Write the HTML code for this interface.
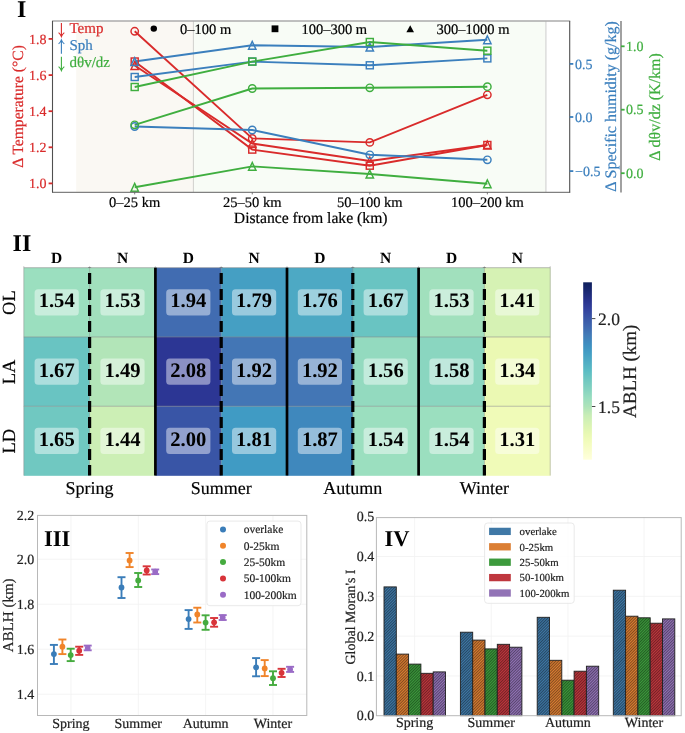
<!DOCTYPE html>
<html><head><meta charset="utf-8"><style>
html,body{margin:0;padding:0;background:#fff;width:685px;height:733px;overflow:hidden;font-family:"Liberation Serif",serif;}
svg{display:block}
</style></head><body>
<svg width="685" height="733" viewBox="0 0 685 733" font-family="'Liberation Serif', serif" text-rendering="geometricPrecision"><g opacity="0.999"><rect x="52.5" y="21.0" width="517.2" height="171.4" fill="#ffffff"/>
<rect x="76.2" y="21.0" width="117.2" height="171.4" fill="#faf8f3"/>
<rect x="193.4" y="21.0" width="352.5" height="171.4" fill="#f8fcf6"/>
<line x1="193.4" y1="21.0" x2="193.4" y2="192.4" stroke="#d0d0cc" stroke-width="1"/>
<line x1="545.9" y1="21.0" x2="545.9" y2="192.4" stroke="#dadada" stroke-width="1.4"/>
<polyline points="134.70,31.30 252.25,138.40 369.80,142.40 487.35,94.80" fill="none" stroke="#d92b2b" stroke-width="1.9"/>
<polyline points="134.70,61.50 252.25,149.60 369.80,165.70 487.35,145.00" fill="none" stroke="#d92b2b" stroke-width="1.9"/>
<polyline points="134.70,65.50 252.25,143.50 369.80,161.00 487.35,145.00" fill="none" stroke="#d92b2b" stroke-width="1.9"/>
<polyline points="134.70,61.50 252.25,45.30 369.80,47.00 487.35,39.80" fill="none" stroke="#3b7fbd" stroke-width="1.9"/>
<polyline points="134.70,77.00 252.25,61.60 369.80,65.30 487.35,58.40" fill="none" stroke="#3b7fbd" stroke-width="1.9"/>
<polyline points="134.70,126.50 252.25,130.00 369.80,154.80 487.35,159.80" fill="none" stroke="#3b7fbd" stroke-width="1.9"/>
<polyline points="134.70,87.00 252.25,61.60 369.80,42.00 487.35,50.70" fill="none" stroke="#3fae3f" stroke-width="1.9"/>
<polyline points="134.70,124.80 252.25,88.50 369.80,87.80 487.35,86.70" fill="none" stroke="#3fae3f" stroke-width="1.9"/>
<polyline points="134.70,187.30 252.25,166.40 369.80,174.00 487.35,183.80" fill="none" stroke="#3fae3f" stroke-width="1.9"/>
<circle cx="134.70" cy="31.30" r="3.7" fill="none" stroke="#d92b2b" stroke-width="1.45"/>
<circle cx="252.25" cy="138.40" r="3.7" fill="none" stroke="#d92b2b" stroke-width="1.45"/>
<circle cx="369.80" cy="142.40" r="3.7" fill="none" stroke="#d92b2b" stroke-width="1.45"/>
<circle cx="487.35" cy="94.80" r="3.7" fill="none" stroke="#d92b2b" stroke-width="1.45"/>
<rect x="131.20" y="58.00" width="7.0" height="7.0" fill="none" stroke="#d92b2b" stroke-width="1.45"/>
<rect x="248.75" y="146.10" width="7.0" height="7.0" fill="none" stroke="#d92b2b" stroke-width="1.45"/>
<rect x="366.30" y="162.20" width="7.0" height="7.0" fill="none" stroke="#d92b2b" stroke-width="1.45"/>
<rect x="483.85" y="141.50" width="7.0" height="7.0" fill="none" stroke="#d92b2b" stroke-width="1.45"/>
<path d="M134.70 61.60 L131.00 69.40 L138.40 69.40 Z" fill="none" stroke="#d92b2b" stroke-width="1.45" stroke-linejoin="miter"/>
<path d="M252.25 139.60 L248.55 147.40 L255.95 147.40 Z" fill="none" stroke="#d92b2b" stroke-width="1.45" stroke-linejoin="miter"/>
<path d="M369.80 157.10 L366.10 164.90 L373.50 164.90 Z" fill="none" stroke="#d92b2b" stroke-width="1.45" stroke-linejoin="miter"/>
<path d="M487.35 141.10 L483.65 148.90 L491.05 148.90 Z" fill="none" stroke="#d92b2b" stroke-width="1.45" stroke-linejoin="miter"/>
<path d="M134.70 57.60 L131.00 65.40 L138.40 65.40 Z" fill="none" stroke="#3b7fbd" stroke-width="1.45" stroke-linejoin="miter"/>
<path d="M252.25 41.40 L248.55 49.20 L255.95 49.20 Z" fill="none" stroke="#3b7fbd" stroke-width="1.45" stroke-linejoin="miter"/>
<path d="M369.80 43.10 L366.10 50.90 L373.50 50.90 Z" fill="none" stroke="#3b7fbd" stroke-width="1.45" stroke-linejoin="miter"/>
<path d="M487.35 35.90 L483.65 43.70 L491.05 43.70 Z" fill="none" stroke="#3b7fbd" stroke-width="1.45" stroke-linejoin="miter"/>
<rect x="131.20" y="73.50" width="7.0" height="7.0" fill="none" stroke="#3b7fbd" stroke-width="1.45"/>
<rect x="248.75" y="58.10" width="7.0" height="7.0" fill="none" stroke="#3b7fbd" stroke-width="1.45"/>
<rect x="366.30" y="61.80" width="7.0" height="7.0" fill="none" stroke="#3b7fbd" stroke-width="1.45"/>
<rect x="483.85" y="54.90" width="7.0" height="7.0" fill="none" stroke="#3b7fbd" stroke-width="1.45"/>
<circle cx="134.70" cy="126.50" r="3.7" fill="none" stroke="#3b7fbd" stroke-width="1.45"/>
<circle cx="252.25" cy="130.00" r="3.7" fill="none" stroke="#3b7fbd" stroke-width="1.45"/>
<circle cx="369.80" cy="154.80" r="3.7" fill="none" stroke="#3b7fbd" stroke-width="1.45"/>
<circle cx="487.35" cy="159.80" r="3.7" fill="none" stroke="#3b7fbd" stroke-width="1.45"/>
<rect x="131.20" y="83.50" width="7.0" height="7.0" fill="none" stroke="#3fae3f" stroke-width="1.45"/>
<rect x="248.75" y="58.10" width="7.0" height="7.0" fill="none" stroke="#3fae3f" stroke-width="1.45"/>
<rect x="366.30" y="38.50" width="7.0" height="7.0" fill="none" stroke="#3fae3f" stroke-width="1.45"/>
<rect x="483.85" y="47.20" width="7.0" height="7.0" fill="none" stroke="#3fae3f" stroke-width="1.45"/>
<circle cx="134.70" cy="124.80" r="3.7" fill="none" stroke="#3fae3f" stroke-width="1.45"/>
<circle cx="252.25" cy="88.50" r="3.7" fill="none" stroke="#3fae3f" stroke-width="1.45"/>
<circle cx="369.80" cy="87.80" r="3.7" fill="none" stroke="#3fae3f" stroke-width="1.45"/>
<circle cx="487.35" cy="86.70" r="3.7" fill="none" stroke="#3fae3f" stroke-width="1.45"/>
<path d="M134.70 183.40 L131.00 191.20 L138.40 191.20 Z" fill="none" stroke="#3fae3f" stroke-width="1.45" stroke-linejoin="miter"/>
<path d="M252.25 162.50 L248.55 170.30 L255.95 170.30 Z" fill="none" stroke="#3fae3f" stroke-width="1.45" stroke-linejoin="miter"/>
<path d="M369.80 170.10 L366.10 177.90 L373.50 177.90 Z" fill="none" stroke="#3fae3f" stroke-width="1.45" stroke-linejoin="miter"/>
<path d="M487.35 179.90 L483.65 187.70 L491.05 187.70 Z" fill="none" stroke="#3fae3f" stroke-width="1.45" stroke-linejoin="miter"/>
<line x1="52.0" y1="21.0" x2="570.2" y2="21.0" stroke="#ababab" stroke-width="1.3"/>
<line x1="52.0" y1="192.4" x2="570.2" y2="192.4" stroke="#808080" stroke-width="1.2"/>
<line x1="52.5" y1="21.0" x2="52.5" y2="192.4" stroke="#505050" stroke-width="1.1"/>
<line x1="569.7" y1="21.0" x2="569.7" y2="192.4" stroke="#505050" stroke-width="1.1"/>
<text x="17.00" y="16.80" font-size="24" fill="#000" text-anchor="start" font-weight="bold">I</text>
<path d="M61.4 23 V36.4 M58.6 32.6 Q60.6 34.2 61.4 36.6 Q62.2 34.2 64.3 32.6" fill="none" stroke="#d92b2b" stroke-width="1.1"/>
<text x="69.50" y="33.40" font-size="15" fill="#d92b2b" text-anchor="start" font-weight="normal" stroke="#d92b2b" stroke-width="0.2">Temp</text>
<path d="M61.4 53.8 V40.2 M58.6 43.9 Q60.6 42.3 61.4 39.9 Q62.2 42.3 64.3 43.9" fill="none" stroke="#3b7fbd" stroke-width="1.1"/>
<text x="69.50" y="50.40" font-size="15" fill="#3b7fbd" text-anchor="start" font-weight="normal" stroke="#3b7fbd" stroke-width="0.2">Sph</text>
<path d="M61.4 56.8 V70.4 M58.6 66.6 Q60.6 68.2 61.4 70.6 Q62.2 68.2 64.3 66.6" fill="none" stroke="#3fae3f" stroke-width="1.1"/>
<text x="69.50" y="67.40" font-size="15" fill="#3fae3f" text-anchor="start" font-weight="normal" stroke="#3fae3f" stroke-width="0.2">dθv/dz</text>
<circle cx="153.8" cy="28.6" r="3.2" fill="#000"/>
<text x="180.00" y="34.00" font-size="14.5" fill="#000" text-anchor="start" font-weight="normal" stroke="#000" stroke-width="0.2">0–100 m</text>
<rect x="271.6" y="25.4" width="6.8" height="6.8" fill="#000"/>
<text x="301.40" y="34.00" font-size="14.5" fill="#000" text-anchor="start" font-weight="normal" stroke="#000" stroke-width="0.2">100–300 m</text>
<path d="M410.2 25.2 L406.4 32.2 L414.0 32.2 Z" fill="#000"/>
<text x="436.50" y="34.00" font-size="14.5" fill="#000" text-anchor="start" font-weight="normal" stroke="#000" stroke-width="0.2">300–1000 m</text>
<line x1="48.6" y1="38.9" x2="52.5" y2="38.9" stroke="#d92b2b" stroke-width="1.8"/>
<text x="46.60" y="43.60" font-size="14" fill="#d92b2b" text-anchor="end" font-weight="normal" stroke="#d92b2b" stroke-width="0.2">1.8</text>
<line x1="48.6" y1="75.1" x2="52.5" y2="75.1" stroke="#d92b2b" stroke-width="1.8"/>
<text x="46.60" y="79.80" font-size="14" fill="#d92b2b" text-anchor="end" font-weight="normal" stroke="#d92b2b" stroke-width="0.2">1.6</text>
<line x1="48.6" y1="111.2" x2="52.5" y2="111.2" stroke="#d92b2b" stroke-width="1.8"/>
<text x="46.60" y="115.90" font-size="14" fill="#d92b2b" text-anchor="end" font-weight="normal" stroke="#d92b2b" stroke-width="0.2">1.4</text>
<line x1="48.6" y1="147.3" x2="52.5" y2="147.3" stroke="#d92b2b" stroke-width="1.8"/>
<text x="46.60" y="152.00" font-size="14" fill="#d92b2b" text-anchor="end" font-weight="normal" stroke="#d92b2b" stroke-width="0.2">1.2</text>
<line x1="48.6" y1="183.4" x2="52.5" y2="183.4" stroke="#d92b2b" stroke-width="1.8"/>
<text x="46.60" y="188.10" font-size="14" fill="#d92b2b" text-anchor="end" font-weight="normal" stroke="#d92b2b" stroke-width="0.2">1.0</text>
<text x="23.00" y="106.40" font-size="15.6" fill="#d92b2b" text-anchor="middle" font-weight="normal" stroke="#d92b2b" stroke-width="0.2" transform="rotate(-90 23.0 106.4)">Δ Temperature (°C)</text>
<line x1="134.70" y1="192.4" x2="134.70" y2="194.4" stroke="#555" stroke-width="0.8"/>
<text x="134.70" y="207.20" font-size="14.5" fill="#000" text-anchor="middle" font-weight="normal" stroke="#000" stroke-width="0.2">0–25 km</text>
<line x1="252.25" y1="192.4" x2="252.25" y2="194.4" stroke="#555" stroke-width="0.8"/>
<text x="252.25" y="207.20" font-size="14.5" fill="#000" text-anchor="middle" font-weight="normal" stroke="#000" stroke-width="0.2">25–50 km</text>
<line x1="369.80" y1="192.4" x2="369.80" y2="194.4" stroke="#555" stroke-width="0.8"/>
<text x="369.80" y="207.20" font-size="14.5" fill="#000" text-anchor="middle" font-weight="normal" stroke="#000" stroke-width="0.2">50–100 km</text>
<line x1="487.35" y1="192.4" x2="487.35" y2="194.4" stroke="#555" stroke-width="0.8"/>
<text x="487.35" y="207.20" font-size="14.5" fill="#000" text-anchor="middle" font-weight="normal" stroke="#000" stroke-width="0.2">100–200 km</text>
<text x="310.70" y="223.20" font-size="15.7" fill="#000" text-anchor="middle" font-weight="normal" stroke="#000" stroke-width="0.2">Distance from lake (km)</text>
<line x1="569.7" y1="63.9" x2="573.3000000000001" y2="63.9" stroke="#3b7fbd" stroke-width="1.8"/>
<text x="575.00" y="68.60" font-size="14" fill="#3b7fbd" text-anchor="start" font-weight="normal" stroke="#3b7fbd" stroke-width="0.2">0.5</text>
<line x1="569.7" y1="117.0" x2="573.3000000000001" y2="117.0" stroke="#3b7fbd" stroke-width="1.8"/>
<text x="575.00" y="121.70" font-size="14" fill="#3b7fbd" text-anchor="start" font-weight="normal" stroke="#3b7fbd" stroke-width="0.2">0.0</text>
<line x1="569.7" y1="171.1" x2="573.3000000000001" y2="171.1" stroke="#3b7fbd" stroke-width="1.8"/>
<text x="575.00" y="175.80" font-size="14" fill="#3b7fbd" text-anchor="start" font-weight="normal" stroke="#3b7fbd" stroke-width="0.2">−0.5</text>
<text x="616.00" y="106.50" font-size="16" fill="#3b7fbd" text-anchor="middle" font-weight="normal" stroke="#3b7fbd" stroke-width="0.2" transform="rotate(-90 616.0 106.5)">Δ Specific humidity (g/kg)</text>
<line x1="621" y1="21.0" x2="621" y2="192.4" stroke="#555" stroke-width="1.1"/>
<line x1="621" y1="46.3" x2="624.6" y2="46.3" stroke="#3fae3f" stroke-width="1.8"/>
<text x="626.00" y="51.00" font-size="14" fill="#3fae3f" text-anchor="start" font-weight="normal" stroke="#3fae3f" stroke-width="0.2">1.0</text>
<line x1="621" y1="109.7" x2="624.6" y2="109.7" stroke="#3fae3f" stroke-width="1.8"/>
<text x="626.00" y="114.40" font-size="14" fill="#3fae3f" text-anchor="start" font-weight="normal" stroke="#3fae3f" stroke-width="0.2">0.5</text>
<line x1="621" y1="173.2" x2="624.6" y2="173.2" stroke="#3fae3f" stroke-width="1.8"/>
<text x="626.00" y="177.90" font-size="14" fill="#3fae3f" text-anchor="start" font-weight="normal" stroke="#3fae3f" stroke-width="0.2">0.0</text>
<text x="660.00" y="107.00" font-size="16" fill="#3fae3f" text-anchor="middle" font-weight="normal" stroke="#3fae3f" stroke-width="0.2" transform="rotate(-90 660.0 107.0)">Δ dθv/dz (K/km)</text>
<rect x="23.80" y="267.70" width="66.10" height="69.57" fill="#9bdfbf"/>
<rect x="89.60" y="267.70" width="66.10" height="69.57" fill="#a1e0bd"/>
<rect x="155.40" y="267.70" width="66.10" height="69.57" fill="#416cb1"/>
<rect x="221.20" y="267.70" width="66.10" height="69.57" fill="#459fc3"/>
<rect x="287.00" y="267.70" width="66.10" height="69.57" fill="#4da9c4"/>
<rect x="352.80" y="267.70" width="66.10" height="69.57" fill="#69c4c2"/>
<rect x="418.60" y="267.70" width="66.10" height="69.57" fill="#a1e0bd"/>
<rect x="484.40" y="267.70" width="66.10" height="69.57" fill="#d6f2b4"/>
<rect x="23.80" y="336.97" width="66.10" height="69.57" fill="#69c4c2"/>
<rect x="89.60" y="336.97" width="66.10" height="69.57" fill="#b2e5b8"/>
<rect x="155.40" y="336.97" width="66.10" height="69.57" fill="#2c3694"/>
<rect x="221.20" y="336.97" width="66.10" height="69.57" fill="#4376b5"/>
<rect x="287.00" y="336.97" width="66.10" height="69.57" fill="#4376b5"/>
<rect x="352.80" y="336.97" width="66.10" height="69.57" fill="#93dabf"/>
<rect x="418.60" y="336.97" width="66.10" height="69.57" fill="#8ad6c0"/>
<rect x="484.40" y="336.97" width="66.10" height="69.57" fill="#ebf9b3"/>
<rect x="23.80" y="406.24" width="66.10" height="69.57" fill="#70c8c1"/>
<rect x="89.60" y="406.24" width="66.10" height="69.57" fill="#ccefb5"/>
<rect x="155.40" y="406.24" width="66.10" height="69.57" fill="#3955a6"/>
<rect x="221.20" y="406.24" width="66.10" height="69.57" fill="#409bc4"/>
<rect x="287.00" y="406.24" width="66.10" height="69.57" fill="#3f88bd"/>
<rect x="352.80" y="406.24" width="66.10" height="69.57" fill="#9bdfbf"/>
<rect x="418.60" y="406.24" width="66.10" height="69.57" fill="#9bdfbf"/>
<rect x="484.40" y="406.24" width="66.10" height="69.57" fill="#f0fbb8"/>
<line x1="23.8" y1="267.70" x2="550.1999999999999" y2="267.70" stroke="#8a8a8a" stroke-width="0.8" stroke-opacity="0.7"/>
<line x1="23.8" y1="336.97" x2="550.1999999999999" y2="336.97" stroke="#8a8a8a" stroke-width="0.8" stroke-opacity="0.7"/>
<line x1="23.8" y1="406.24" x2="550.1999999999999" y2="406.24" stroke="#8a8a8a" stroke-width="0.8" stroke-opacity="0.7"/>
<line x1="23.80" y1="266.2" x2="23.80" y2="475.51" stroke="#8a8a8a" stroke-width="0.8" stroke-opacity="0.6"/>
<line x1="89.60" y1="266.2" x2="89.60" y2="475.51" stroke="#8a8a8a" stroke-width="0.8" stroke-opacity="0.6"/>
<line x1="155.40" y1="266.2" x2="155.40" y2="475.51" stroke="#8a8a8a" stroke-width="0.8" stroke-opacity="0.6"/>
<line x1="221.20" y1="266.2" x2="221.20" y2="475.51" stroke="#8a8a8a" stroke-width="0.8" stroke-opacity="0.6"/>
<line x1="287.00" y1="266.2" x2="287.00" y2="475.51" stroke="#8a8a8a" stroke-width="0.8" stroke-opacity="0.6"/>
<line x1="352.80" y1="266.2" x2="352.80" y2="475.51" stroke="#8a8a8a" stroke-width="0.8" stroke-opacity="0.6"/>
<line x1="418.60" y1="266.2" x2="418.60" y2="475.51" stroke="#8a8a8a" stroke-width="0.8" stroke-opacity="0.6"/>
<line x1="484.40" y1="266.2" x2="484.40" y2="475.51" stroke="#8a8a8a" stroke-width="0.8" stroke-opacity="0.6"/>
<line x1="550.20" y1="266.2" x2="550.20" y2="475.51" stroke="#8a8a8a" stroke-width="0.8" stroke-opacity="0.6"/>
<rect x="34.60" y="289.23" width="44.2" height="26.2" rx="3.5" fill="#ffffff" fill-opacity="0.45"/>
<text x="56.70" y="307.23" font-size="20.6" fill="#000" text-anchor="middle" font-weight="bold">1.54</text>
<rect x="100.40" y="289.23" width="44.2" height="26.2" rx="3.5" fill="#ffffff" fill-opacity="0.45"/>
<text x="122.50" y="307.23" font-size="20.6" fill="#000" text-anchor="middle" font-weight="bold">1.53</text>
<rect x="166.20" y="289.23" width="44.2" height="26.2" rx="3.5" fill="#ffffff" fill-opacity="0.45"/>
<text x="188.30" y="307.23" font-size="20.6" fill="#000" text-anchor="middle" font-weight="bold">1.94</text>
<rect x="232.00" y="289.23" width="44.2" height="26.2" rx="3.5" fill="#ffffff" fill-opacity="0.45"/>
<text x="254.10" y="307.23" font-size="20.6" fill="#000" text-anchor="middle" font-weight="bold">1.79</text>
<rect x="297.80" y="289.23" width="44.2" height="26.2" rx="3.5" fill="#ffffff" fill-opacity="0.45"/>
<text x="319.90" y="307.23" font-size="20.6" fill="#000" text-anchor="middle" font-weight="bold">1.76</text>
<rect x="363.60" y="289.23" width="44.2" height="26.2" rx="3.5" fill="#ffffff" fill-opacity="0.45"/>
<text x="385.70" y="307.23" font-size="20.6" fill="#000" text-anchor="middle" font-weight="bold">1.67</text>
<rect x="429.40" y="289.23" width="44.2" height="26.2" rx="3.5" fill="#ffffff" fill-opacity="0.45"/>
<text x="451.50" y="307.23" font-size="20.6" fill="#000" text-anchor="middle" font-weight="bold">1.53</text>
<rect x="495.20" y="289.23" width="44.2" height="26.2" rx="3.5" fill="#ffffff" fill-opacity="0.45"/>
<text x="517.30" y="307.23" font-size="20.6" fill="#000" text-anchor="middle" font-weight="bold">1.41</text>
<rect x="34.60" y="358.50" width="44.2" height="26.2" rx="3.5" fill="#ffffff" fill-opacity="0.45"/>
<text x="56.70" y="376.50" font-size="20.6" fill="#000" text-anchor="middle" font-weight="bold">1.67</text>
<rect x="100.40" y="358.50" width="44.2" height="26.2" rx="3.5" fill="#ffffff" fill-opacity="0.45"/>
<text x="122.50" y="376.50" font-size="20.6" fill="#000" text-anchor="middle" font-weight="bold">1.49</text>
<rect x="166.20" y="358.50" width="44.2" height="26.2" rx="3.5" fill="#ffffff" fill-opacity="0.45"/>
<text x="188.30" y="376.50" font-size="20.6" fill="#000" text-anchor="middle" font-weight="bold">2.08</text>
<rect x="232.00" y="358.50" width="44.2" height="26.2" rx="3.5" fill="#ffffff" fill-opacity="0.45"/>
<text x="254.10" y="376.50" font-size="20.6" fill="#000" text-anchor="middle" font-weight="bold">1.92</text>
<rect x="297.80" y="358.50" width="44.2" height="26.2" rx="3.5" fill="#ffffff" fill-opacity="0.45"/>
<text x="319.90" y="376.50" font-size="20.6" fill="#000" text-anchor="middle" font-weight="bold">1.92</text>
<rect x="363.60" y="358.50" width="44.2" height="26.2" rx="3.5" fill="#ffffff" fill-opacity="0.45"/>
<text x="385.70" y="376.50" font-size="20.6" fill="#000" text-anchor="middle" font-weight="bold">1.56</text>
<rect x="429.40" y="358.50" width="44.2" height="26.2" rx="3.5" fill="#ffffff" fill-opacity="0.45"/>
<text x="451.50" y="376.50" font-size="20.6" fill="#000" text-anchor="middle" font-weight="bold">1.58</text>
<rect x="495.20" y="358.50" width="44.2" height="26.2" rx="3.5" fill="#ffffff" fill-opacity="0.45"/>
<text x="517.30" y="376.50" font-size="20.6" fill="#000" text-anchor="middle" font-weight="bold">1.34</text>
<rect x="34.60" y="427.77" width="44.2" height="26.2" rx="3.5" fill="#ffffff" fill-opacity="0.45"/>
<text x="56.70" y="445.77" font-size="20.6" fill="#000" text-anchor="middle" font-weight="bold">1.65</text>
<rect x="100.40" y="427.77" width="44.2" height="26.2" rx="3.5" fill="#ffffff" fill-opacity="0.45"/>
<text x="122.50" y="445.77" font-size="20.6" fill="#000" text-anchor="middle" font-weight="bold">1.44</text>
<rect x="166.20" y="427.77" width="44.2" height="26.2" rx="3.5" fill="#ffffff" fill-opacity="0.45"/>
<text x="188.30" y="445.77" font-size="20.6" fill="#000" text-anchor="middle" font-weight="bold">2.00</text>
<rect x="232.00" y="427.77" width="44.2" height="26.2" rx="3.5" fill="#ffffff" fill-opacity="0.45"/>
<text x="254.10" y="445.77" font-size="20.6" fill="#000" text-anchor="middle" font-weight="bold">1.81</text>
<rect x="297.80" y="427.77" width="44.2" height="26.2" rx="3.5" fill="#ffffff" fill-opacity="0.45"/>
<text x="319.90" y="445.77" font-size="20.6" fill="#000" text-anchor="middle" font-weight="bold">1.87</text>
<rect x="363.60" y="427.77" width="44.2" height="26.2" rx="3.5" fill="#ffffff" fill-opacity="0.45"/>
<text x="385.70" y="445.77" font-size="20.6" fill="#000" text-anchor="middle" font-weight="bold">1.54</text>
<rect x="429.40" y="427.77" width="44.2" height="26.2" rx="3.5" fill="#ffffff" fill-opacity="0.45"/>
<text x="451.50" y="445.77" font-size="20.6" fill="#000" text-anchor="middle" font-weight="bold">1.54</text>
<rect x="495.20" y="427.77" width="44.2" height="26.2" rx="3.5" fill="#ffffff" fill-opacity="0.45"/>
<text x="517.30" y="445.77" font-size="20.6" fill="#000" text-anchor="middle" font-weight="bold">1.31</text>
<line x1="89.60" y1="267.7" x2="89.60" y2="475.51" stroke="#000" stroke-width="3.2" stroke-dasharray="11 5" stroke-dashoffset="10.8"/>
<line x1="221.20" y1="267.7" x2="221.20" y2="475.51" stroke="#000" stroke-width="3.2" stroke-dasharray="11 5" stroke-dashoffset="10.8"/>
<line x1="352.80" y1="267.7" x2="352.80" y2="475.51" stroke="#000" stroke-width="3.2" stroke-dasharray="11 5" stroke-dashoffset="10.8"/>
<line x1="484.40" y1="267.7" x2="484.40" y2="475.51" stroke="#000" stroke-width="3.2" stroke-dasharray="11 5" stroke-dashoffset="10.8"/>
<line x1="155.40" y1="267.7" x2="155.40" y2="475.51" stroke="#000" stroke-width="2.7"/>
<line x1="287.00" y1="267.7" x2="287.00" y2="475.51" stroke="#000" stroke-width="2.7"/>
<line x1="418.60" y1="267.7" x2="418.60" y2="475.51" stroke="#000" stroke-width="2.7"/>
<text x="12.60" y="251.00" font-size="24" fill="#000" text-anchor="start" font-weight="bold">II</text>
<text x="56.70" y="263.20" font-size="15.5" fill="#000" text-anchor="middle" font-weight="bold">D</text>
<text x="122.50" y="263.20" font-size="15.5" fill="#000" text-anchor="middle" font-weight="bold">N</text>
<text x="188.30" y="263.20" font-size="15.5" fill="#000" text-anchor="middle" font-weight="bold">D</text>
<text x="254.10" y="263.20" font-size="15.5" fill="#000" text-anchor="middle" font-weight="bold">N</text>
<text x="319.90" y="263.20" font-size="15.5" fill="#000" text-anchor="middle" font-weight="bold">D</text>
<text x="385.70" y="263.20" font-size="15.5" fill="#000" text-anchor="middle" font-weight="bold">N</text>
<text x="451.50" y="263.20" font-size="15.5" fill="#000" text-anchor="middle" font-weight="bold">D</text>
<text x="517.30" y="263.20" font-size="15.5" fill="#000" text-anchor="middle" font-weight="bold">N</text>
<text x="15.00" y="302.63" font-size="18.5" fill="#000" text-anchor="middle" font-weight="normal" stroke="#000" stroke-width="0.2" transform="rotate(-90 15.0 302.635)">OL</text>
<text x="15.00" y="371.91" font-size="18.5" fill="#000" text-anchor="middle" font-weight="normal" stroke="#000" stroke-width="0.2" transform="rotate(-90 15.0 371.90500000000003)">LA</text>
<text x="15.00" y="441.18" font-size="18.5" fill="#000" text-anchor="middle" font-weight="normal" stroke="#000" stroke-width="0.2" transform="rotate(-90 15.0 441.175)">LD</text>
<text x="89.60" y="494.00" font-size="18" fill="#000" text-anchor="middle" font-weight="normal" stroke="#000" stroke-width="0.2">Spring</text>
<text x="221.20" y="494.00" font-size="18" fill="#000" text-anchor="middle" font-weight="normal" stroke="#000" stroke-width="0.2">Summer</text>
<text x="352.80" y="494.00" font-size="18" fill="#000" text-anchor="middle" font-weight="normal" stroke="#000" stroke-width="0.2">Autumn</text>
<text x="484.40" y="494.00" font-size="18" fill="#000" text-anchor="middle" font-weight="normal" stroke="#000" stroke-width="0.2">Winter</text>
<defs><linearGradient id="cb" x1="0" y1="1" x2="0" y2="0"><stop offset="0.00" stop-color="#ffffdc"/><stop offset="0.05" stop-color="#f9fdcc"/><stop offset="0.10" stop-color="#f2fcbc"/><stop offset="0.15" stop-color="#e7f8b3"/><stop offset="0.20" stop-color="#d8f3b4"/><stop offset="0.25" stop-color="#c8edb6"/><stop offset="0.30" stop-color="#ade3b9"/><stop offset="0.35" stop-color="#98ddbf"/><stop offset="0.40" stop-color="#83d2c0"/><stop offset="0.45" stop-color="#70c8c1"/><stop offset="0.50" stop-color="#5bbdc4"/><stop offset="0.55" stop-color="#50adc4"/><stop offset="0.60" stop-color="#439ec4"/><stop offset="0.65" stop-color="#3e8ec0"/><stop offset="0.70" stop-color="#427cb8"/><stop offset="0.75" stop-color="#3f67af"/><stop offset="0.80" stop-color="#3955a6"/><stop offset="0.85" stop-color="#32419d"/><stop offset="0.90" stop-color="#27328b"/><stop offset="0.95" stop-color="#1a2872"/><stop offset="1.00" stop-color="#0e1f5b"/></linearGradient>
<pattern id="hatch" patternUnits="userSpaceOnUse" width="2" height="2" patternTransform="rotate(45)"><line x1="0.5" y1="0" x2="0.5" y2="2" stroke="#000" stroke-width="0.8" stroke-opacity="0.5"/></pattern></defs>
<rect x="583.2" y="282.3" width="8.7" height="177.4" fill="url(#cb)"/>
<line x1="591.9" y1="318.6" x2="595.4" y2="318.6" stroke="#333" stroke-width="0.9"/>
<text x="598.00" y="324.70" font-size="17.5" fill="#222" text-anchor="start" font-weight="normal" stroke="#222" stroke-width="0.2">2.0</text>
<line x1="591.9" y1="406.5" x2="595.4" y2="406.5" stroke="#333" stroke-width="0.9"/>
<text x="598.00" y="412.60" font-size="17.5" fill="#222" text-anchor="start" font-weight="normal" stroke="#222" stroke-width="0.2">1.5</text>
<text x="636.20" y="371.30" font-size="19" fill="#222" text-anchor="middle" font-weight="normal" stroke="#222" stroke-width="0.2" transform="rotate(-90 636.2 371.3)">ABLH (km)</text>
<line x1="37.5" y1="694.20" x2="306.8" y2="694.20" stroke="#f1f1f1" stroke-width="0.8"/>
<text x="34.30" y="698.90" font-size="14" fill="#222" text-anchor="end" font-weight="normal" stroke="#222" stroke-width="0.2">1.4</text>
<line x1="37.5" y1="649.20" x2="306.8" y2="649.20" stroke="#f1f1f1" stroke-width="0.8"/>
<text x="34.30" y="653.90" font-size="14" fill="#222" text-anchor="end" font-weight="normal" stroke="#222" stroke-width="0.2">1.6</text>
<line x1="37.5" y1="604.20" x2="306.8" y2="604.20" stroke="#f1f1f1" stroke-width="0.8"/>
<text x="34.30" y="608.90" font-size="14" fill="#222" text-anchor="end" font-weight="normal" stroke="#222" stroke-width="0.2">1.8</text>
<line x1="37.5" y1="559.20" x2="306.8" y2="559.20" stroke="#f1f1f1" stroke-width="0.8"/>
<text x="34.30" y="563.90" font-size="14" fill="#222" text-anchor="end" font-weight="normal" stroke="#222" stroke-width="0.2">2.0</text>
<text x="34.30" y="520.00" font-size="14" fill="#222" text-anchor="end" font-weight="normal" stroke="#222" stroke-width="0.2">2.2</text>
<line x1="70.9" y1="515.4" x2="70.9" y2="715.5" stroke="#f1f1f1" stroke-width="0.8"/>
<line x1="138.3" y1="515.4" x2="138.3" y2="715.5" stroke="#f1f1f1" stroke-width="0.8"/>
<line x1="205.6" y1="515.4" x2="205.6" y2="715.5" stroke="#f1f1f1" stroke-width="0.8"/>
<line x1="272.9" y1="515.4" x2="272.9" y2="715.5" stroke="#f1f1f1" stroke-width="0.8"/>
<rect x="37.5" y="515.4" width="269.3" height="200.10000000000002" fill="none" stroke="#b8b8b8" stroke-width="1"/>
<line x1="53.9" y1="644.9" x2="53.9" y2="664.0" stroke="#3a7db9" stroke-width="1.9"/>
<line x1="49.9" y1="644.9" x2="57.9" y2="644.9" stroke="#3a7db9" stroke-width="1.9"/>
<line x1="49.9" y1="664.0" x2="57.9" y2="664.0" stroke="#3a7db9" stroke-width="1.9"/>
<circle cx="53.9" cy="654.1" r="2.9" fill="#3a7db9"/>
<line x1="62.4" y1="639.5" x2="62.4" y2="654.1" stroke="#f0842a" stroke-width="1.9"/>
<line x1="58.4" y1="639.5" x2="66.4" y2="639.5" stroke="#f0842a" stroke-width="1.9"/>
<line x1="58.4" y1="654.1" x2="66.4" y2="654.1" stroke="#f0842a" stroke-width="1.9"/>
<circle cx="62.4" cy="646.7" r="2.9" fill="#f0842a"/>
<line x1="70.7" y1="648.7" x2="70.7" y2="661.1" stroke="#45ab3e" stroke-width="1.9"/>
<line x1="66.7" y1="648.7" x2="74.7" y2="648.7" stroke="#45ab3e" stroke-width="1.9"/>
<line x1="66.7" y1="661.1" x2="74.7" y2="661.1" stroke="#45ab3e" stroke-width="1.9"/>
<circle cx="70.7" cy="655.1" r="2.9" fill="#45ab3e"/>
<line x1="79.2" y1="646.7" x2="79.2" y2="654.9" stroke="#d8343a" stroke-width="1.9"/>
<line x1="75.2" y1="646.7" x2="83.2" y2="646.7" stroke="#d8343a" stroke-width="1.9"/>
<line x1="75.2" y1="654.9" x2="83.2" y2="654.9" stroke="#d8343a" stroke-width="1.9"/>
<circle cx="79.2" cy="650.7" r="2.9" fill="#d8343a"/>
<line x1="87.7" y1="645.6" x2="87.7" y2="650.3" stroke="#9a6bc6" stroke-width="1.9"/>
<line x1="83.7" y1="645.6" x2="91.7" y2="645.6" stroke="#9a6bc6" stroke-width="1.9"/>
<line x1="83.7" y1="650.3" x2="91.7" y2="650.3" stroke="#9a6bc6" stroke-width="1.9"/>
<circle cx="87.7" cy="648.1" r="2.9" fill="#9a6bc6"/>
<line x1="121.5" y1="577.2" x2="121.5" y2="598.0" stroke="#3a7db9" stroke-width="1.9"/>
<line x1="117.5" y1="577.2" x2="125.5" y2="577.2" stroke="#3a7db9" stroke-width="1.9"/>
<line x1="117.5" y1="598.0" x2="125.5" y2="598.0" stroke="#3a7db9" stroke-width="1.9"/>
<circle cx="121.5" cy="587.5" r="2.9" fill="#3a7db9"/>
<line x1="129.6" y1="553.0" x2="129.6" y2="567.1" stroke="#f0842a" stroke-width="1.9"/>
<line x1="125.6" y1="553.0" x2="133.6" y2="553.0" stroke="#f0842a" stroke-width="1.9"/>
<line x1="125.6" y1="567.1" x2="133.6" y2="567.1" stroke="#f0842a" stroke-width="1.9"/>
<circle cx="129.6" cy="560.4" r="2.9" fill="#f0842a"/>
<line x1="138.2" y1="573.0" x2="138.2" y2="587.0" stroke="#45ab3e" stroke-width="1.9"/>
<line x1="134.2" y1="573.0" x2="142.2" y2="573.0" stroke="#45ab3e" stroke-width="1.9"/>
<line x1="134.2" y1="587.0" x2="142.2" y2="587.0" stroke="#45ab3e" stroke-width="1.9"/>
<circle cx="138.2" cy="580.4" r="2.9" fill="#45ab3e"/>
<line x1="146.7" y1="566.3" x2="146.7" y2="574.5" stroke="#d8343a" stroke-width="1.9"/>
<line x1="142.7" y1="566.3" x2="150.7" y2="566.3" stroke="#d8343a" stroke-width="1.9"/>
<line x1="142.7" y1="574.5" x2="150.7" y2="574.5" stroke="#d8343a" stroke-width="1.9"/>
<circle cx="146.7" cy="570.4" r="2.9" fill="#d8343a"/>
<line x1="155.2" y1="569.5" x2="155.2" y2="574.1" stroke="#9a6bc6" stroke-width="1.9"/>
<line x1="151.2" y1="569.5" x2="159.2" y2="569.5" stroke="#9a6bc6" stroke-width="1.9"/>
<line x1="151.2" y1="574.1" x2="159.2" y2="574.1" stroke="#9a6bc6" stroke-width="1.9"/>
<circle cx="155.2" cy="571.7" r="2.9" fill="#9a6bc6"/>
<line x1="188.6" y1="610.1" x2="188.6" y2="628.9" stroke="#3a7db9" stroke-width="1.9"/>
<line x1="184.6" y1="610.1" x2="192.6" y2="610.1" stroke="#3a7db9" stroke-width="1.9"/>
<line x1="184.6" y1="628.9" x2="192.6" y2="628.9" stroke="#3a7db9" stroke-width="1.9"/>
<circle cx="188.6" cy="619.1" r="2.9" fill="#3a7db9"/>
<line x1="197.3" y1="607.7" x2="197.3" y2="622.5" stroke="#f0842a" stroke-width="1.9"/>
<line x1="193.3" y1="607.7" x2="201.3" y2="607.7" stroke="#f0842a" stroke-width="1.9"/>
<line x1="193.3" y1="622.5" x2="201.3" y2="622.5" stroke="#f0842a" stroke-width="1.9"/>
<circle cx="197.3" cy="614.4" r="2.9" fill="#f0842a"/>
<line x1="205.6" y1="615.3" x2="205.6" y2="629.8" stroke="#45ab3e" stroke-width="1.9"/>
<line x1="201.6" y1="615.3" x2="209.6" y2="615.3" stroke="#45ab3e" stroke-width="1.9"/>
<line x1="201.6" y1="629.8" x2="209.6" y2="629.8" stroke="#45ab3e" stroke-width="1.9"/>
<circle cx="205.6" cy="622.6" r="2.9" fill="#45ab3e"/>
<line x1="214.1" y1="618.0" x2="214.1" y2="626.7" stroke="#d8343a" stroke-width="1.9"/>
<line x1="210.1" y1="618.0" x2="218.1" y2="618.0" stroke="#d8343a" stroke-width="1.9"/>
<line x1="210.1" y1="626.7" x2="218.1" y2="626.7" stroke="#d8343a" stroke-width="1.9"/>
<circle cx="214.1" cy="622.3" r="2.9" fill="#d8343a"/>
<line x1="222.7" y1="615.1" x2="222.7" y2="620.0" stroke="#9a6bc6" stroke-width="1.9"/>
<line x1="218.7" y1="615.1" x2="226.7" y2="615.1" stroke="#9a6bc6" stroke-width="1.9"/>
<line x1="218.7" y1="620.0" x2="226.7" y2="620.0" stroke="#9a6bc6" stroke-width="1.9"/>
<circle cx="222.7" cy="617.5" r="2.9" fill="#9a6bc6"/>
<line x1="256.1" y1="658.1" x2="256.1" y2="676.3" stroke="#3a7db9" stroke-width="1.9"/>
<line x1="252.10000000000002" y1="658.1" x2="260.1" y2="658.1" stroke="#3a7db9" stroke-width="1.9"/>
<line x1="252.10000000000002" y1="676.3" x2="260.1" y2="676.3" stroke="#3a7db9" stroke-width="1.9"/>
<circle cx="256.1" cy="667.3" r="2.9" fill="#3a7db9"/>
<line x1="264.7" y1="660.1" x2="264.7" y2="676.1" stroke="#f0842a" stroke-width="1.9"/>
<line x1="260.7" y1="660.1" x2="268.7" y2="660.1" stroke="#f0842a" stroke-width="1.9"/>
<line x1="260.7" y1="676.1" x2="268.7" y2="676.1" stroke="#f0842a" stroke-width="1.9"/>
<circle cx="264.7" cy="668.4" r="2.9" fill="#f0842a"/>
<line x1="273.0" y1="671.3" x2="273.0" y2="685.0" stroke="#45ab3e" stroke-width="1.9"/>
<line x1="269.0" y1="671.3" x2="277.0" y2="671.3" stroke="#45ab3e" stroke-width="1.9"/>
<line x1="269.0" y1="685.0" x2="277.0" y2="685.0" stroke="#45ab3e" stroke-width="1.9"/>
<circle cx="273.0" cy="678.2" r="2.9" fill="#45ab3e"/>
<line x1="281.6" y1="668.8" x2="281.6" y2="677.0" stroke="#d8343a" stroke-width="1.9"/>
<line x1="277.6" y1="668.8" x2="285.6" y2="668.8" stroke="#d8343a" stroke-width="1.9"/>
<line x1="277.6" y1="677.0" x2="285.6" y2="677.0" stroke="#d8343a" stroke-width="1.9"/>
<circle cx="281.6" cy="672.8" r="2.9" fill="#d8343a"/>
<line x1="290.1" y1="666.8" x2="290.1" y2="671.9" stroke="#9a6bc6" stroke-width="1.9"/>
<line x1="286.1" y1="666.8" x2="294.1" y2="666.8" stroke="#9a6bc6" stroke-width="1.9"/>
<line x1="286.1" y1="671.9" x2="294.1" y2="671.9" stroke="#9a6bc6" stroke-width="1.9"/>
<circle cx="290.1" cy="669.4" r="2.9" fill="#9a6bc6"/>
<text x="44.00" y="546.00" font-size="22.5" fill="#000" text-anchor="start" font-weight="bold">III</text>
<text x="13.20" y="615.30" font-size="15" fill="#222" text-anchor="middle" font-weight="normal" stroke="#222" stroke-width="0.2" transform="rotate(-90 13.2 615.3)">ABLH (km)</text>
<text x="70.90" y="727.60" font-size="14" fill="#222" text-anchor="middle" font-weight="normal" stroke="#222" stroke-width="0.2">Spring</text>
<text x="138.30" y="727.60" font-size="14" fill="#222" text-anchor="middle" font-weight="normal" stroke="#222" stroke-width="0.2">Summer</text>
<text x="205.60" y="727.60" font-size="14" fill="#222" text-anchor="middle" font-weight="normal" stroke="#222" stroke-width="0.2">Autumn</text>
<text x="272.90" y="727.60" font-size="14" fill="#222" text-anchor="middle" font-weight="normal" stroke="#222" stroke-width="0.2">Winter</text>
<rect x="206.9" y="521.1" width="94.1" height="84.6" rx="3" fill="#ffffff" fill-opacity="0.85" stroke="#e6e6e6" stroke-width="0.9"/>
<circle cx="223" cy="529.50" r="3.0" fill="#3a7db9"/>
<text x="243.70" y="533.40" font-size="11.5" fill="#222" text-anchor="start" font-weight="normal" stroke="#222" stroke-width="0.2">overlake</text>
<circle cx="223" cy="545.80" r="3.0" fill="#f0842a"/>
<text x="243.70" y="549.70" font-size="11.5" fill="#222" text-anchor="start" font-weight="normal" stroke="#222" stroke-width="0.2">0-25km</text>
<circle cx="223" cy="562.10" r="3.0" fill="#45ab3e"/>
<text x="243.70" y="566.00" font-size="11.5" fill="#222" text-anchor="start" font-weight="normal" stroke="#222" stroke-width="0.2">25-50km</text>
<circle cx="223" cy="578.40" r="3.0" fill="#d8343a"/>
<text x="243.70" y="582.30" font-size="11.5" fill="#222" text-anchor="start" font-weight="normal" stroke="#222" stroke-width="0.2">50-100km</text>
<circle cx="223" cy="594.70" r="3.0" fill="#9a6bc6"/>
<text x="243.70" y="598.60" font-size="11.5" fill="#222" text-anchor="start" font-weight="normal" stroke="#222" stroke-width="0.2">100-200km</text>
<line x1="376.4" y1="675.90" x2="681.2" y2="675.90" stroke="#f1f1f1" stroke-width="0.8"/>
<line x1="376.4" y1="636.10" x2="681.2" y2="636.10" stroke="#f1f1f1" stroke-width="0.8"/>
<line x1="376.4" y1="596.30" x2="681.2" y2="596.30" stroke="#f1f1f1" stroke-width="0.8"/>
<line x1="376.4" y1="556.50" x2="681.2" y2="556.50" stroke="#f1f1f1" stroke-width="0.8"/>
<text x="374.20" y="720.40" font-size="14" fill="#222" text-anchor="end" font-weight="normal" stroke="#222" stroke-width="0.2">0.0</text>
<text x="374.20" y="680.60" font-size="14" fill="#222" text-anchor="end" font-weight="normal" stroke="#222" stroke-width="0.2">0.1</text>
<text x="374.20" y="640.80" font-size="14" fill="#222" text-anchor="end" font-weight="normal" stroke="#222" stroke-width="0.2">0.2</text>
<text x="374.20" y="601.00" font-size="14" fill="#222" text-anchor="end" font-weight="normal" stroke="#222" stroke-width="0.2">0.3</text>
<text x="374.20" y="561.20" font-size="14" fill="#222" text-anchor="end" font-weight="normal" stroke="#222" stroke-width="0.2">0.4</text>
<text x="374.20" y="521.40" font-size="14" fill="#222" text-anchor="end" font-weight="normal" stroke="#222" stroke-width="0.2">0.5</text>
<line x1="414.6" y1="517.6" x2="414.6" y2="715.7" stroke="#f1f1f1" stroke-width="0.8"/>
<line x1="491.2" y1="517.6" x2="491.2" y2="715.7" stroke="#f1f1f1" stroke-width="0.8"/>
<line x1="567.9" y1="517.6" x2="567.9" y2="715.7" stroke="#f1f1f1" stroke-width="0.8"/>
<line x1="644.0" y1="517.6" x2="644.0" y2="715.7" stroke="#f1f1f1" stroke-width="0.8"/>
<rect x="384.00" y="586.90" width="12.30" height="128.80" fill="#3f78a6"/>
<rect x="384.00" y="586.90" width="12.30" height="128.80" fill="url(#hatch)" stroke="#222" stroke-width="0.9"/>
<rect x="396.30" y="654.10" width="12.30" height="61.60" fill="#db7e33"/>
<rect x="396.30" y="654.10" width="12.30" height="61.60" fill="url(#hatch)" stroke="#222" stroke-width="0.9"/>
<rect x="408.60" y="664.10" width="12.30" height="51.60" fill="#3c9a3c"/>
<rect x="408.60" y="664.10" width="12.30" height="51.60" fill="url(#hatch)" stroke="#222" stroke-width="0.9"/>
<rect x="420.90" y="673.30" width="12.30" height="42.40" fill="#bf373e"/>
<rect x="420.90" y="673.30" width="12.30" height="42.40" fill="url(#hatch)" stroke="#222" stroke-width="0.9"/>
<rect x="433.20" y="671.90" width="12.30" height="43.80" fill="#9273b6"/>
<rect x="433.20" y="671.90" width="12.30" height="43.80" fill="url(#hatch)" stroke="#222" stroke-width="0.9"/>
<rect x="460.40" y="632.20" width="12.30" height="83.50" fill="#3f78a6"/>
<rect x="460.40" y="632.20" width="12.30" height="83.50" fill="url(#hatch)" stroke="#222" stroke-width="0.9"/>
<rect x="472.70" y="640.10" width="12.30" height="75.60" fill="#db7e33"/>
<rect x="472.70" y="640.10" width="12.30" height="75.60" fill="url(#hatch)" stroke="#222" stroke-width="0.9"/>
<rect x="485.00" y="648.90" width="12.30" height="66.80" fill="#3c9a3c"/>
<rect x="485.00" y="648.90" width="12.30" height="66.80" fill="url(#hatch)" stroke="#222" stroke-width="0.9"/>
<rect x="497.30" y="644.30" width="12.30" height="71.40" fill="#bf373e"/>
<rect x="497.30" y="644.30" width="12.30" height="71.40" fill="url(#hatch)" stroke="#222" stroke-width="0.9"/>
<rect x="509.60" y="647.20" width="12.30" height="68.50" fill="#9273b6"/>
<rect x="509.60" y="647.20" width="12.30" height="68.50" fill="url(#hatch)" stroke="#222" stroke-width="0.9"/>
<rect x="537.20" y="617.30" width="12.30" height="98.40" fill="#3f78a6"/>
<rect x="537.20" y="617.30" width="12.30" height="98.40" fill="url(#hatch)" stroke="#222" stroke-width="0.9"/>
<rect x="549.50" y="660.30" width="12.30" height="55.40" fill="#db7e33"/>
<rect x="549.50" y="660.30" width="12.30" height="55.40" fill="url(#hatch)" stroke="#222" stroke-width="0.9"/>
<rect x="561.80" y="680.20" width="12.30" height="35.50" fill="#3c9a3c"/>
<rect x="561.80" y="680.20" width="12.30" height="35.50" fill="url(#hatch)" stroke="#222" stroke-width="0.9"/>
<rect x="574.10" y="671.20" width="12.30" height="44.50" fill="#bf373e"/>
<rect x="574.10" y="671.20" width="12.30" height="44.50" fill="url(#hatch)" stroke="#222" stroke-width="0.9"/>
<rect x="586.40" y="666.20" width="12.30" height="49.50" fill="#9273b6"/>
<rect x="586.40" y="666.20" width="12.30" height="49.50" fill="url(#hatch)" stroke="#222" stroke-width="0.9"/>
<rect x="613.30" y="590.20" width="12.30" height="125.50" fill="#3f78a6"/>
<rect x="613.30" y="590.20" width="12.30" height="125.50" fill="url(#hatch)" stroke="#222" stroke-width="0.9"/>
<rect x="625.60" y="616.20" width="12.30" height="99.50" fill="#db7e33"/>
<rect x="625.60" y="616.20" width="12.30" height="99.50" fill="url(#hatch)" stroke="#222" stroke-width="0.9"/>
<rect x="637.90" y="617.80" width="12.30" height="97.90" fill="#3c9a3c"/>
<rect x="637.90" y="617.80" width="12.30" height="97.90" fill="url(#hatch)" stroke="#222" stroke-width="0.9"/>
<rect x="650.20" y="623.20" width="12.30" height="92.50" fill="#bf373e"/>
<rect x="650.20" y="623.20" width="12.30" height="92.50" fill="url(#hatch)" stroke="#222" stroke-width="0.9"/>
<rect x="662.50" y="618.90" width="12.30" height="96.80" fill="#9273b6"/>
<rect x="662.50" y="618.90" width="12.30" height="96.80" fill="url(#hatch)" stroke="#222" stroke-width="0.9"/>
<rect x="376.4" y="517.6" width="304.80000000000007" height="198.10000000000002" fill="none" stroke="#b8b8b8" stroke-width="1"/>
<text x="384.50" y="546.20" font-size="22.5" fill="#000" text-anchor="start" font-weight="bold">IV</text>
<text x="355.20" y="617.00" font-size="14" fill="#222" text-anchor="middle" font-weight="normal" stroke="#222" stroke-width="0.2" transform="rotate(-90 355.2 617.0)">Global Moran's I</text>
<text x="414.60" y="727.20" font-size="14" fill="#222" text-anchor="middle" font-weight="normal" stroke="#222" stroke-width="0.2">Spring</text>
<text x="491.20" y="727.20" font-size="14" fill="#222" text-anchor="middle" font-weight="normal" stroke="#222" stroke-width="0.2">Summer</text>
<text x="567.90" y="727.20" font-size="14" fill="#222" text-anchor="middle" font-weight="normal" stroke="#222" stroke-width="0.2">Autumn</text>
<text x="644.00" y="727.20" font-size="14" fill="#222" text-anchor="middle" font-weight="normal" stroke="#222" stroke-width="0.2">Winter</text>
<rect x="484.6" y="523.0" width="89.6" height="80.3" rx="3" fill="#ffffff" fill-opacity="0.85" stroke="#e6e6e6" stroke-width="0.9"/>
<rect x="489.1" y="527.75" width="21.7" height="7.3" fill="#3f78a6"/>
<text x="519.60" y="535.10" font-size="10.8" fill="#222" text-anchor="start" font-weight="normal" stroke="#222" stroke-width="0.2">overlake</text>
<rect x="489.1" y="543.15" width="21.7" height="7.3" fill="#db7e33"/>
<text x="519.60" y="550.50" font-size="10.8" fill="#222" text-anchor="start" font-weight="normal" stroke="#222" stroke-width="0.2">0-25km</text>
<rect x="489.1" y="558.55" width="21.7" height="7.3" fill="#3c9a3c"/>
<text x="519.60" y="565.90" font-size="10.8" fill="#222" text-anchor="start" font-weight="normal" stroke="#222" stroke-width="0.2">25-50km</text>
<rect x="489.1" y="573.95" width="21.7" height="7.3" fill="#bf373e"/>
<text x="519.60" y="581.30" font-size="10.8" fill="#222" text-anchor="start" font-weight="normal" stroke="#222" stroke-width="0.2">50-100km</text>
<rect x="489.1" y="589.35" width="21.7" height="7.3" fill="#9273b6"/>
<text x="519.60" y="596.70" font-size="10.8" fill="#222" text-anchor="start" font-weight="normal" stroke="#222" stroke-width="0.2">100-200km</text></g></svg>
</body></html>
